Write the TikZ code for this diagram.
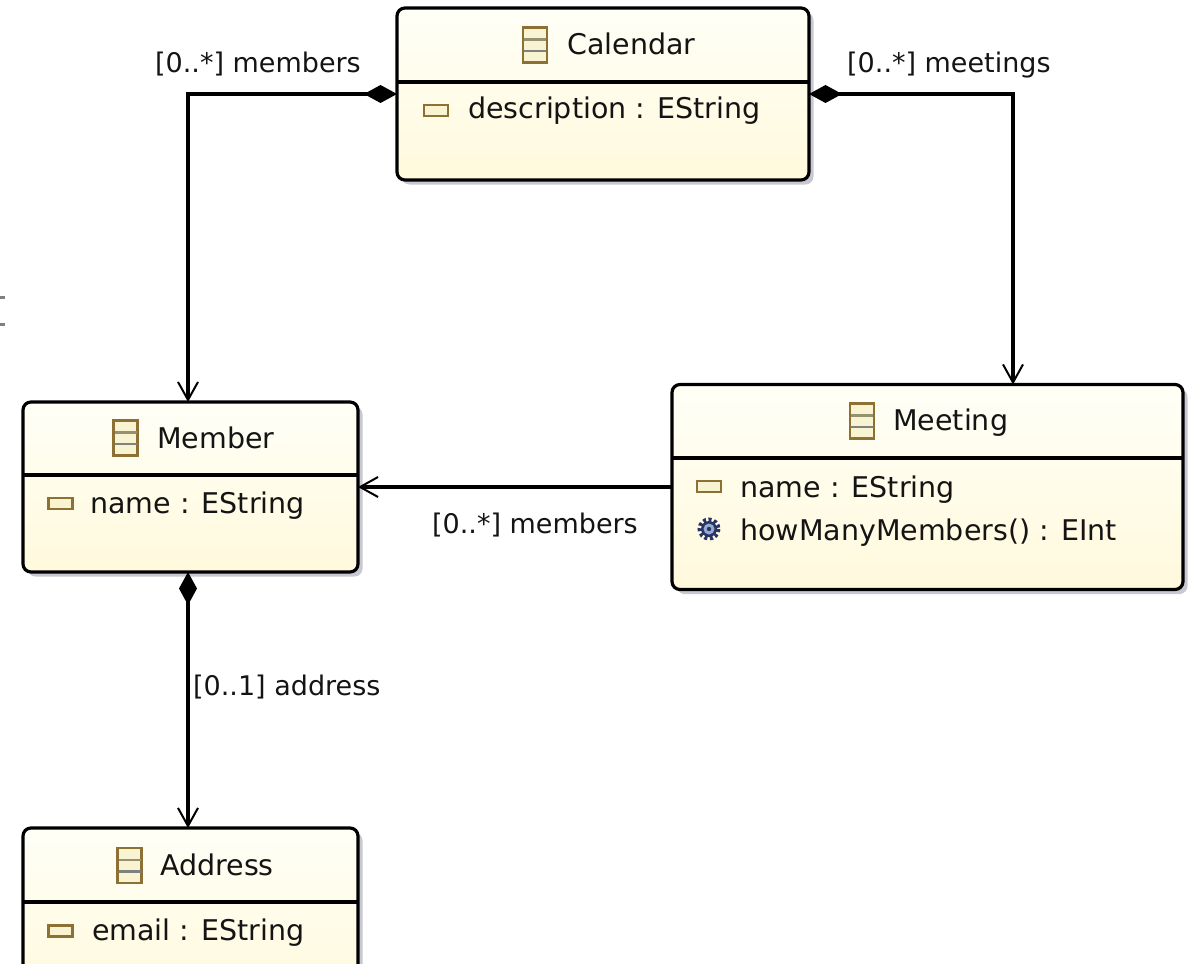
\documentclass[tikz,border=0pt]{standalone}
\usepackage{fontspec}
\setmainfont{DejaVu Sans}
\usetikzlibrary{arrows.meta,shadows}
\definecolor{boxA}{RGB}{255,255,247}
\definecolor{boxB}{RGB}{255,249,220}
\definecolor{shadowc}{RGB}{200,200,210}
\definecolor{iconborder}{RGB}{140,112,52}
\definecolor{iconfill}{RGB}{248,244,210}
\definecolor{iconline}{RGB}{150,144,112}
\definecolor{gearc}{RGB}{40,52,100}
\definecolor{gearfill}{RGB}{150,170,210}
\definecolor{txt}{RGB}{20,20,20}
\begin{document}
\begin{tikzpicture}[x=1pt,y=-1pt,
  every node/.style={font=\fontsize{28.5pt}{34pt}\selectfont, text=txt},
  classbox/.style={draw=black, line width=3.2pt, rounded corners=8pt,
    top color=boxA, bottom color=boxB, inner sep=0pt, outer sep=0pt,
    drop shadow={shadow xshift=4.5pt, shadow yshift=-4.5pt, fill=shadowc, opacity=1}},
  txtnode/.style={anchor=base west, inner sep=0pt},
  labnode/.style={anchor=base west, inner sep=0pt, font=\fontsize{27pt}{32pt}\selectfont},
  divider/.style={draw=black, line width=3.2pt},
  conn/.style={draw=black, line width=3.2pt},
  comp/.style={{Diamond[length=33pt,width=18pt]}-{Straight Barb[length=18pt,width=20pt,line width=2pt]}},
  assoc/.style={-{Straight Barb[length=18pt,width=20pt,line width=2pt]}},
  clsicon/.pic={
    \draw[iconborder, fill=iconfill, line width=2.5pt] (-12,-17.5) rectangle (12,17.5);
    \draw[iconline, line width=2.5pt] (-11,-5.5) -- (11,-5.5);
    \draw[gray, line width=2.5pt] (-11,6) -- (11,6);
  },
  attricon/.pic={
    \draw[iconborder, fill=iconfill, line width=2.5pt] (-12,-5.5) rectangle (12,5.5);
  },
  opicon/.pic={
    \draw[gearc, line width=4pt, dash pattern=on 3pt off 2.5pt] (0,0) circle (9.5);
    \fill[gearc] (0,0) circle (8);
    \fill[gearfill] (0,0) circle (5.5);
    \fill[gearc] (0,0) circle (2.2);
  }
]
\useasboundingbox (0,0) rectangle (1201,963);

% stray marks at the left edge
\draw[gray, line width=3pt] (0,297) -- (5,297) (0,324) -- (5,324);

% boxes
\node[classbox, minimum width=412pt, minimum height=172pt] (cal) at (603,94) {};
\node[classbox, minimum width=335pt, minimum height=170pt] (mem) at (190.5,487) {};
\node[classbox, minimum width=511pt, minimum height=205pt] (meet) at (927.5,487) {};
\node[classbox, minimum width=335pt, minimum height=172pt] (addr) at (190.5,914) {};

% dividers
\draw[divider] (cal.west |- 0,82) -- (cal.east |- 0,82);
\draw[divider] (mem.west |- 0,475) -- (mem.east |- 0,475);
\draw[divider] (meet.west |- 0,458) -- (meet.east |- 0,458);
\draw[divider] (addr.west |- 0,902) -- (addr.east |- 0,902);

% icons
\pic at (535,45) {clsicon};
\pic at (125.5,438) {clsicon};
\pic at (862,421) {clsicon};
\pic at (129.5,865.5) {clsicon};
\pic at (436,110.5) {attricon};
\pic at (60.5,503.5) {attricon};
\pic at (709,486.5) {attricon};
\pic at (60.5,931) {attricon};
\pic at (709,529) {opicon};

% texts
\node[txtnode] (calt) at (567,55) {Calendar};
\node[txtnode] (cala) at (468,119) {description : EString};
\node[txtnode] (memt) at (157,448) {Member};
\node[txtnode] (mema) at (90,513) {name : EString};
\node[txtnode] (meett) at (893,430) {Meeting};
\node[txtnode] (meeta) at (740,497) {name : EString};
\node[txtnode] (meeto) at (740,540) {howManyMembers() : EInt};
\node[txtnode] (addrt) at (160,875) {Address};
\node[txtnode] (addra) at (92,940) {email : EString};

% connectors
\draw[conn, comp] (cal.west) -| ([xshift=-2.5pt]mem.north);
\draw[conn, comp] (cal.east) -| ([xshift=85.5pt]meet.north);
\draw[conn, assoc] (meet.west) -- (mem.east);
\draw[conn, comp] ([xshift=-2.5pt]mem.south) -- ([xshift=-2.5pt]addr.north);

% labels
\node[labnode] (l1) at (155,73) {[0..*] members};
\node[labnode] (l2) at (847,73) {[0..*] meetings};
\node[labnode] (l3) at (432,533) {[0..*] members};
\node[labnode] (l4) at (193,695) {[0..1] address};
\end{tikzpicture}
\end{document}
